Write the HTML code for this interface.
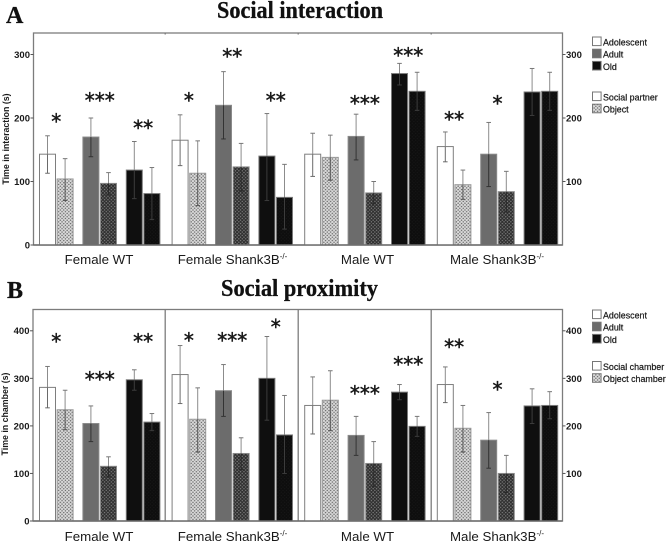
<!DOCTYPE html>
<html>
<head>
<meta charset="utf-8">
<style>
html,body{margin:0;padding:0;background:#fff;width:669px;height:543px;overflow:hidden}
svg{display:block;filter:blur(0.35px)}
text{font-family:"Liberation Sans",sans-serif;fill:#1a1a1a}
.serif{font-family:"Liberation Serif",serif;font-weight:bold;fill:#111;stroke:#111;stroke-width:0.3px}
</style>
</head>
<body>
<svg id="chart" xmlns="http://www.w3.org/2000/svg" width="669" height="543" viewBox="0 0 669 543">
<defs>
<pattern id="dotsLight" width="3.4" height="3.4" patternUnits="userSpaceOnUse"><rect width="3.4" height="3.4" fill="#dcdcdc"/><circle cx="0.85" cy="0.85" r="0.75" fill="#666"/><circle cx="2.55" cy="2.55" r="0.75" fill="#666"/></pattern>
<pattern id="dotsDark" width="3.4" height="3.4" patternUnits="userSpaceOnUse"><rect width="3.4" height="3.4" fill="#2e2e2e"/><circle cx="0.85" cy="0.85" r="0.7" fill="#808080"/><circle cx="2.55" cy="2.55" r="0.7" fill="#808080"/></pattern>
<pattern id="dotsBlack" width="3.4" height="3.4" patternUnits="userSpaceOnUse"><rect width="3.4" height="3.4" fill="#0e0e0e"/><circle cx="0.85" cy="0.85" r="0.5" fill="#1c1c1c"/><circle cx="2.55" cy="2.55" r="0.5" fill="#1c1c1c"/></pattern>
</defs>
<text class="serif" x="6" y="23" font-size="24">A</text>
<text class="serif" x="217" y="18" font-size="24" textLength="166" lengthAdjust="spacingAndGlyphs">Social interaction</text>
<text class="serif" x="7" y="298" font-size="24">B</text>
<text class="serif" x="221" y="296" font-size="24" textLength="157" lengthAdjust="spacingAndGlyphs">Social proximity</text>
<g id="panelA"></g>
<g id="panelB"></g>
</svg>
<script>
// Shared categories
const groupNames = ["Female WT", "Female Shank3B", "Male WT", "Male Shank3B"];
const groupSuperscripts = ["", "-/-", "", "-/-"];
const ageNames = ["Adolescent", "Adult", "Old"];

// Panel A: time in interaction (s); each row is one group: social/object for each age
const interactionMeans = [
  [143, 104, 170, 97, 118, 81],
  [165, 113, 220, 123, 140, 75],
  [143, 138, 171, 82, 270, 242],
  [155, 95, 143, 84, 241, 242]
];
const interactionUpper = [
  [172, 136, 200, 114, 163, 122],
  [205, 164, 273, 160, 207, 127],
  [176, 173, 206, 100, 286, 272],
  [178, 118, 193, 116, 278, 272]
];
const interactionLower = [
  [113, 70, 139, 79, 73, 40],
  [125, 62, 167, 85, 70, 25],
  [108, 102, 134, 65, 252, 212],
  [131, 72, 92, 52, 204, 212]
];
const interactionStarCounts = [[1, 3, 2], [1, 2, 2], [0, 3, 3], [2, 1, 0]];
const interactionStarLevels = [[200, 233, 190], [233, 302, 233], [0, 228, 304], [203, 228, 0]];
const interactionTicks = [0, 100, 200, 300];
const interactionRightTicks = [100, 200, 300];
const interactionLegendConditions = ["Social partner", "Object"];

// Panel B: time in chamber (s)
const chamberMeans = [
  [281, 234, 205, 115, 297, 208],
  [308, 214, 274, 142, 300, 181],
  [243, 254, 180, 121, 271, 199],
  [287, 195, 170, 100, 242, 243]
];
const chamberUpper = [
  [325, 275, 242, 135, 318, 226],
  [369, 280, 329, 175, 388, 264],
  [303, 316, 220, 167, 287, 220],
  [324, 243, 228, 138, 278, 272]
];
const chamberLower = [
  [238, 192, 167, 93, 275, 190],
  [247, 145, 220, 108, 212, 100],
  [183, 190, 138, 73, 255, 178],
  [249, 145, 111, 60, 205, 215]
];
const chamberStarCounts = [[1, 3, 2], [1, 3, 1], [0, 3, 3], [2, 1, 0]];
const chamberStarLevels = [[385, 305, 385], [387, 387, 415], [0, 276, 337], [373, 284, 0]];
const chamberTicks = [0, 100, 200, 300, 400];
const chamberRightTicks = [100, 200, 300, 400];
const chamberLegendConditions = ["Social chamber", "Object chamber"];

const NS = "http://www.w3.org/2000/svg";
const FILLS = ["#ffffff", "url(#dotsLight)", "#6c6c6c", "url(#dotsDark)", "#0f0f0f", "url(#dotsBlack)"];
const STROKES = ["#7e7e7e", "#9a9a9a", "#8a8a8a", "#8a8a8a", "#7a7a7a", "#7a7a7a"];
const INNER = ["#6a6a6a", "#555555", "#333333", "#2a2a2a", "#3c3c3c", "#3c3c3c"];

function make(parent, tag, attrs, txt) {
  const el = document.createElementNS(NS, tag);
  for (const k in attrs) el.setAttribute(k, attrs[k]);
  if (txt !== undefined) el.textContent = txt;
  parent.appendChild(el);
  return el;
}

// Band-style x axis: group -> age -> condition
function barX(g, a, c) { return 39.5 + g * 132.6 + a * 43.4 + c * 17.6; }
const BAR_W = 16;

function drawPanel(root, cfg) {
  const y = v => cfg.base - v * cfg.scale;

  // frame
  const frame = make(root, "rect", {x: cfg.left, y: cfg.top, width: 562.5 - cfg.left, height: cfg.base - cfg.top, fill: "none", stroke: "#7c7c7c", "stroke-width": 1.3});
  
  

  // group dividers
  [1, 2, 3].forEach(i => {
    const dx = 165.2 + (i - 1) * 133;
    const sep = make(root, "line", {x1: dx, x2: dx, y1: cfg.top, y2: cfg.dividers ? cfg.base : cfg.top + 1.5, stroke: "#7c7c7c", "stroke-width": 1.3});
    
    
  });

  // left axis
  cfg.ticks.forEach(t => {
    const tk = make(root, "line", {x1: cfg.left - 3, x2: cfg.left, y1: y(t), y2: y(t), stroke: "#555", "stroke-width": 1});
    
    
    const lb = make(root, "text", {x: cfg.left - 3.5, y: y(t) + 3.4, "font-size": 9.5, "text-anchor": "end", "font-weight": "bold", fill: "#333"}, t);
    
    
  });

  // right axis
  cfg.rightTicks.forEach(t => {
    const tk = make(root, "line", {x1: 562.5, x2: 565.5, y1: y(t), y2: y(t), stroke: "#555", "stroke-width": 1});
    
    
    const lb = make(root, "text", {x: 566, y: y(t) + 3.4, "font-size": 9.5, "font-weight": "bold", fill: "#333"}, t);
    
    
  });

  // y-axis title
  const yt = make(root, "text", {transform: "translate(" + cfg.titleX + "," + cfg.titleY + ") rotate(-90)", "font-size": 8.8, "font-weight": "bold", "text-anchor": "middle", fill: "#222"}, cfg.title);
  
  

  // bars + error bars
  cfg.means.forEach((row, g) => {
    row.forEach((m, i) => {
      const a = Math.floor(i / 2), c = i % 2;
      const x = barX(g, a, c);
      const bar = make(root, "rect", {x: x, y: y(m), width: BAR_W, height: cfg.base - y(m), fill: FILLS[i], stroke: STROKES[i], "stroke-width": 1});
      
      

      const cx = x + BAR_W / 2;
      const up = make(root, "line", {x1: cx, x2: cx, y1: y(cfg.upper[g][i]), y2: y(m), stroke: "#8c8c8c", "stroke-width": 1});
      
      
      const capU = make(root, "line", {x1: cx - 2.3, x2: cx + 2.3, y1: y(cfg.upper[g][i]), y2: y(cfg.upper[g][i]), stroke: "#777", "stroke-width": 1});
      
      
      const low = make(root, "line", {x1: cx, x2: cx, y1: y(m), y2: y(cfg.lower[g][i]), stroke: INNER[i], "stroke-width": 1});
      
      
      const capL = make(root, "line", {x1: cx - 2.3, x2: cx + 2.3, y1: y(cfg.lower[g][i]), y2: y(cfg.lower[g][i]), stroke: INNER[i], "stroke-width": 1});
      
      
    });
  });

  // baseline
  const bl = make(root, "line", {x1: cfg.left, x2: 562.5, y1: cfg.base, y2: cfg.base, stroke: "#6e6e6e", "stroke-width": 1.5});
  
  

  // significance stars
  cfg.starCounts.forEach((row, g) => {
    row.forEach((n, a) => {
      if (!n) return;
      const cx = (barX(g, a, 0) + barX(g, a, 1) + BAR_W) / 2;
      const st = make(root, "text", {x: cx, y: y(cfg.starLevels[g][a]) + 10.5, "font-size": 20, "text-anchor": "middle", fill: "#111", stroke: "#111", "stroke-width": 0.45});
      st.textContent = "*".repeat(n);
      st.setAttribute('style', 'font-family:"DejaVu Sans",sans-serif');
      
      
    });
  });

  // group labels
  const labelX = [99, 232.5, 367.5, 497];
  groupNames.forEach((name, g) => {
    const gl = make(root, "text", {x: labelX[g], y: cfg.labelY, "font-size": 13.3, "text-anchor": "middle", fill: "#222"});
    
    
    make(gl, "tspan", {}, name);
    if (groupSuperscripts[g]) make(gl, "tspan", {"font-size": 8, dy: -5}, groupSuperscripts[g]);
  });

  // legend
  const ageFills = ["#ffffff", "#6c6c6c", "#0f0f0f"];
  ageNames.forEach((name, i) => {
    const sy = cfg.legendTop + i * 12.2;
    const sw = make(root, "rect", {x: 592.5, y: sy, width: 8.6, height: 8.6, fill: ageFills[i], stroke: "#777", "stroke-width": 1});
    
    
    const lt = make(root, "text", {x: 603, y: sy + 8.4, "font-size": 8.9, fill: "#111", stroke: "#111", "stroke-width": 0.2}, name);
    
    
  });
  const condFills = ["#ffffff", "url(#dotsLight)"];
  cfg.legendConds.forEach((name, i) => {
    const sy = cfg.legendCondTop + i * 12.2;
    const sw = make(root, "rect", {x: 592.5, y: sy, width: 8.6, height: 8.6, fill: condFills[i], stroke: "#777", "stroke-width": 1});
    
    
    const lt = make(root, "text", {x: 603, y: sy + 8.4, "font-size": 8.9, fill: "#111", stroke: "#111", "stroke-width": 0.2}, name);
    
    
  });
}

drawPanel(document.getElementById("panelA"), {
  left: 33.5, top: 33, base: 245, scale: 0.635, dividers: false,
  ticks: interactionTicks, rightTicks: interactionRightTicks,
  means: interactionMeans, upper: interactionUpper, lower: interactionLower,
  starCounts: interactionStarCounts, starLevels: interactionStarLevels,
  title: "Time in interaction (s)", titleX: 9, titleY: 139, labelY: 264,
  legendTop: 37, legendCondTop: 92, legendConds: interactionLegendConditions
});
drawPanel(document.getElementById("panelB"), {
  left: 33, top: 309.5, base: 521, scale: 0.4755, dividers: true,
  ticks: chamberTicks, rightTicks: chamberRightTicks,
  means: chamberMeans, upper: chamberUpper, lower: chamberLower,
  starCounts: chamberStarCounts, starLevels: chamberStarLevels,
  title: "Time in chamber (s)", titleX: 8, titleY: 414, labelY: 541,
  legendTop: 310, legendCondTop: 361.5, legendConds: chamberLegendConditions
});
</script>
</body>
</html>
